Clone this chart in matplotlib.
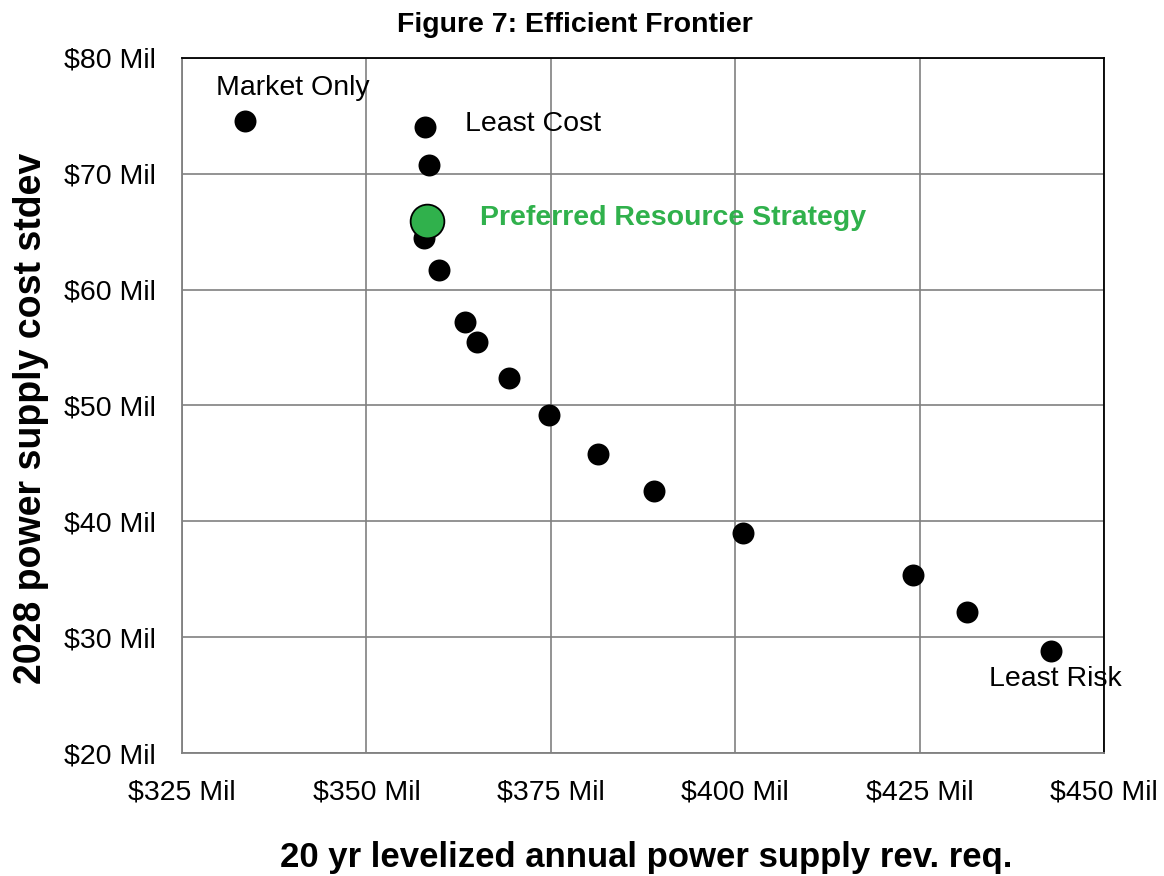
import matplotlib
matplotlib.use("Agg")
import matplotlib.pyplot as plt

# Data (in $ millions)
rev_req = [333.5, 357.9, 358.5, 357.8, 359.8, 363.4, 365.0, 369.3, 374.8, 381.4, 389.0, 401.1, 424.1, 431.4, 442.8]
stdev = [74.6, 74.0, 70.8, 64.5, 61.7, 57.2, 55.5, 52.4, 49.2, 45.8, 42.6, 39.0, 35.4, 32.2, 28.8]
pref_rev_req = [358.2]
pref_stdev = [65.9]
x_ticks = [325, 350, 375, 400, 425, 450]
y_ticks = [20, 30, 40, 50, 60, 70, 80]

plt.rcParams['font.family'] = ['Liberation Sans', 'DejaVu Sans']

fig = plt.figure(figsize=(11.64, 8.76), dpi=100)
ax = fig.add_axes([182/1164, 1-753/876, (1104-182)/1164, (753-58)/876])

ax.scatter(rev_req, stdev, s=250, color='black', zorder=3, linewidths=0)
ax.scatter(pref_rev_req, pref_stdev, s=590, color='#30b14c', edgecolor='black', linewidths=1.3, zorder=4)

ax.set_xlim(325, 450)
ax.set_ylim(20, 80)
ax.set_xticks(x_ticks)
ax.set_yticks(y_ticks)
ax.set_xticklabels([f"${v} Mil" for v in x_ticks], fontsize=20.5)
ax.set_yticklabels([f"${v} Mil" for v in y_ticks], fontsize=20.5)
ax.tick_params(axis='both', length=0, labelcolor='black')
ax.tick_params(axis='y', pad=19)
ax.tick_params(axis='x', pad=19)
ax.grid(True, color='#808080', linewidth=1.2)
ax.set_axisbelow(True)
for s in ['left', 'bottom']:
    ax.spines[s].set_color('#808080')
    ax.spines[s].set_linewidth(1.3)
for s in ['top', 'right']:
    ax.spines[s].set_color('black')
    ax.spines[s].set_linewidth(1.3)

ax.text(340.0, 77.4, "Market Only", fontsize=20.5, ha='center', va='center')
ax.text(363.4, 74.3, "Least Cost", fontsize=20.5, ha='left', va='center')
ax.text(443.4, 26.4, "Least Risk", fontsize=20.5, ha='center', va='center')
ax.text(365.4, 66.2, "Preferred Resource Strategy", fontsize=20.5, fontweight='bold', color='#30b14c', ha='left', va='center')

fig.text(575/1164, 1-25/876, "Figure 7: Efficient Frontier", fontsize=20.5, fontweight='bold', ha='center', va='center')
fig.text(646/1164, 1-857/876, "20 yr levelized annual power supply rev. req.", fontsize=25, fontweight='bold', ha='center', va='center')
fig.text(31/1164, 1-418/876, "2028 power supply cost stdev", fontsize=27, fontweight='bold', ha='center', va='center', rotation=90)

fig.savefig("out.png", dpi=100)
